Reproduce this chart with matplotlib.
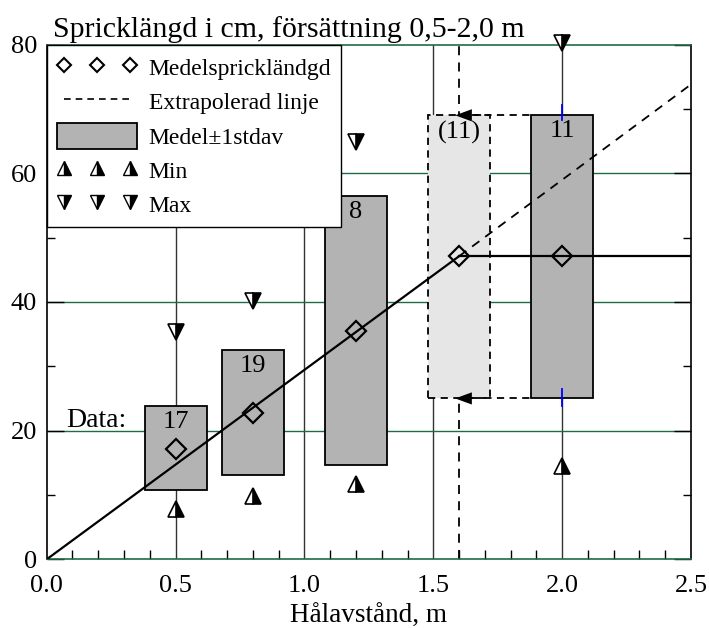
import matplotlib
matplotlib.use("Agg")
import matplotlib.pyplot as plt
from matplotlib.lines import Line2D
from matplotlib.patches import Rectangle
from matplotlib.ticker import MultipleLocator

plt.rcParams["font.family"] = ["Liberation Serif", "DejaVu Serif"]

# measured groups (spacing in m)
spacing = [0.5, 0.8, 1.2, 2.0]
mean_len = [17.2, 22.8, 35.5, 47.1]
sd_low = [10.7, 13.1, 14.7, 25.0]
sd_high = [23.9, 32.6, 56.5, 69.0]
min_len = [7.8, 9.8, 11.7, 14.5]
max_len = [35.4, 40.2, 64.9, 80.2]
n_labels = ["17", "19", "8", "11"]

# extrapolated group
ext_spacing = 1.6
ext_mean = 47.1
ext_low = 25.0
ext_high = 69.0
ext_label = "(11)"

# fitted line: solid up to 1.6, dashed beyond
fit_x = [0.0, 1.6]
fit_y = [0.0, 47.1]
extra_x = [1.6, 2.5]
extra_y = [47.1, 73.8]

# short blue marks on the 2.0 column
blue_marks = [(68.2, 70.6), (23.8, 26.5)]

BOX_HALF = 0.12
DARK = "#b3b3b3"
LIGHT = "#e6e6e6"
GREEN = "#1f6b45"
DASH = (0, (4, 3))

fig = plt.figure(figsize=(7.09, 6.28), dpi=100)
ax = fig.add_axes([0.0659, 0.1094, 0.9087, 0.8197])
ax.set_xlim(0, 2.5)
ax.set_ylim(0, 80)

# grid
for gx in [0.5, 1.0, 1.5, 2.0]:
    ax.axvline(gx, color="#333333", lw=1.0, zorder=1)
for gy in [20, 40, 60]:
    ax.axhline(gy, color=GREEN, lw=1.0, zorder=1)
ax.axvline(ext_spacing, color="k", lw=1.3, ls=(0, (5, 4)), zorder=1)

# boxes
for x, lo, hi in zip(spacing, sd_low, sd_high):
    ax.add_patch(Rectangle((x - BOX_HALF, lo), 2 * BOX_HALF, hi - lo,
                           facecolor=DARK, edgecolor="k", lw=1.3, zorder=2))
ax.add_patch(Rectangle((ext_spacing - BOX_HALF, ext_low), 2 * BOX_HALF,
                       ext_high - ext_low, facecolor=LIGHT, edgecolor="k",
                       lw=1.3, ls=DASH, zorder=2))

for lo, hi in blue_marks:
    ax.plot([2.0, 2.0], [lo, hi], color="blue", lw=1.3, zorder=3)

# dashed arrows from the 2.0 box to the extrapolated box
for y in [ext_high, ext_low]:
    ax.plot([ext_spacing, spacing[-1] - BOX_HALF], [y, y], color="k",
            lw=1.3, ls=DASH, zorder=3)
    ax.annotate("", xy=(ext_spacing - 0.015, y), xytext=(ext_spacing + 0.07, y),
                arrowprops=dict(arrowstyle="-|>,head_length=0.6,head_width=0.22",
                                color="k", lw=0, mutation_scale=20,
                                shrinkA=0, shrinkB=0),
                zorder=4)

# lines
ax.plot(fit_x, fit_y, color="k", lw=1.6, zorder=4)
ax.plot(extra_x, extra_y, color="k", lw=1.3, ls=(0, (5, 4)), zorder=4)
ax.plot([ext_spacing, 2.5], [ext_mean, ext_mean], color="k", lw=1.6, zorder=4)

# markers
mk = dict(linestyle="none", markeredgecolor="k", zorder=5, clip_on=False)
ax.plot(spacing + [ext_spacing], mean_len + [ext_mean], marker="D", ms=10,
        markerfacecolor="none", markeredgewidth=1.6, **mk)
ax.plot(spacing, min_len, marker="^", ms=12, fillstyle="right",
        markerfacecolor="k", markerfacecoloralt="white", markeredgewidth=1.2, **mk)
ax.plot(spacing, max_len, marker="v", ms=12, fillstyle="right",
        markerfacecolor="k", markerfacecoloralt="white", markeredgewidth=1.2, **mk)

# n labels
for x, hi, lab in zip(spacing, sd_high, n_labels):
    ax.text(x, hi - 0.8, lab, ha="center", va="top", fontsize=19, zorder=6)
ax.text(ext_spacing, ext_high - 0.8, ext_label, ha="center", va="top",
        fontsize=19, zorder=6)
ax.text(0.077, 21.5, "Data:", ha="left", va="center", fontsize=20, zorder=6)

# ticks
ax.xaxis.set_major_locator(MultipleLocator(0.5))
ax.xaxis.set_minor_locator(MultipleLocator(0.1))
ax.yaxis.set_major_locator(MultipleLocator(20))
ax.yaxis.set_minor_locator(MultipleLocator(10))
ax.xaxis.set_major_formatter(lambda v, p: f"{v:.1f}")
ax.tick_params(which="both", direction="in", left=True, right=True,
               bottom=True, top=False, labelsize=19, width=1)
ax.tick_params(axis="y", which="major", length=12, pad=7)
ax.tick_params(axis="y", which="minor", length=5.5)
ax.tick_params(axis="x", which="major", length=0, pad=11)
ax.tick_params(axis="x", which="minor", length=6.5)
for s in ["left", "right"]:
    ax.spines[s].set_linewidth(1.2)
for s in ["top", "bottom"]:
    ax.spines[s].set_color(GREEN)
    ax.spines[s].set_linewidth(1.2)

ax.set_xlabel("Hålavstånd, m", fontsize=19.5, labelpad=5)
fig.text(0.075, 1 - 37 / 628, "Spricklängd i cm, försättning 0,5-2,0 m",
         ha="left", va="baseline", fontsize=21.5)

# legend
handles = [
    Line2D([], [], linestyle="none", marker="D", ms=7.5, markerfacecolor="none",
           markeredgecolor="k", markeredgewidth=1.5),
    Line2D([], [], color="k", lw=1.2, ls=DASH),
    Rectangle((0, 0), 1, 1, facecolor=DARK, edgecolor="k", lw=1.3),
    Line2D([], [], linestyle="none", marker="^", ms=10, fillstyle="right",
           markerfacecolor="k", markerfacecoloralt="white", markeredgecolor="k"),
    Line2D([], [], linestyle="none", marker="v", ms=10, fillstyle="right",
           markerfacecolor="k", markerfacecoloralt="white", markeredgecolor="k"),
]
labels = ["Medelsprickländgd", "Extrapolerad linje", "Medel±1stdav", "Min", "Max"]
leg = ax.legend(handles, labels, loc="upper left", numpoints=3,
                fontsize=17, frameon=True, fancybox=False, framealpha=1,
                edgecolor="k", borderaxespad=0, borderpad=0.42,
                handlelength=3.4, handleheight=1.3, handletextpad=0.5,
                labelspacing=0.36)
leg.get_frame().set_linewidth(1.0)
leg.set_zorder(10)

fig.savefig("out.png", dpi=100)
